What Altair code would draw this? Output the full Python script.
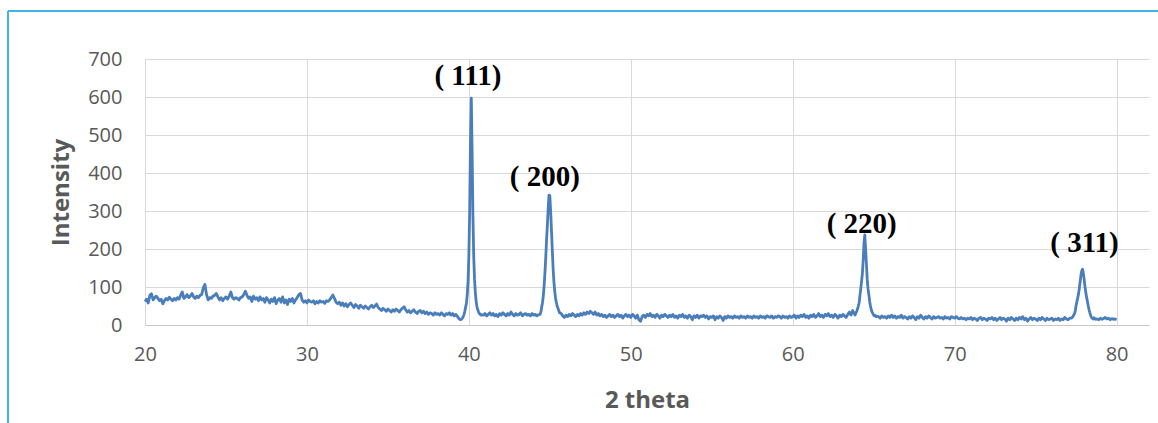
import numpy as np
import pandas as pd
import altair as alt

# ---------------- data ----------------
# baseline segments sampled every 0.1 degree (2 theta), start value given
seg_a_start = 20.0
seg_a = [
    62, 68, 58, 78, 82, 66, 72, 76, 70, 64,   # 20.x
    68, 56, 64, 70, 66, 73, 68, 64, 70, 66,   # 21.x
    72, 68, 78, 87, 70, 74, 80, 72, 76, 83,   # 22.x
    74, 70, 76, 72, 78, 80, 98, 107, 80, 66,  # 23.x
    72, 70, 76, 78, 83, 74, 66, 72, 64, 70,   # 24.x
    74, 68, 76, 87, 72, 68, 72, 70, 66, 72,   # 25.x
    74, 80, 89, 78, 70, 74, 62, 76, 68, 72,   # 26.x
    64, 74, 66, 70, 60, 72, 66, 58, 68, 62,   # 27.x
    72, 56, 66, 70, 60, 74, 58, 66, 54, 68,   # 28.x
    62, 70, 58, 66, 72, 80, 83, 66, 60, 64,   # 29.x
    58, 66, 62, 60, 64, 56, 62, 58, 64, 60,   # 30.x
    62, 57, 64, 62, 66, 72, 79, 70, 60, 56,   # 31.x
    60, 52, 58, 50, 56, 48, 54, 58, 52, 46,   # 32.x
    54, 50, 44, 52, 48, 44, 50, 46, 42, 48,   # 33.x
    52, 46, 50, 55, 46, 42, 38, 44, 40, 36,   # 34.x
    42, 38, 34, 40, 36, 42, 38, 34, 40, 44,   # 35.x
    48, 40, 34, 38, 32, 36, 40, 34, 30, 36,   # 36.x
    38, 32, 36, 30, 34, 28, 32, 30, 26, 32,   # 37.x
    28, 30, 26, 32, 28, 24, 30, 28, 32, 26,   # 38.x
    30, 24, 28, 22, 16, 14,                   # 39.0-39.5
]

seg_b_start = 40.9
seg_b = [
    26, 30, 24, 28, 32, 26, 30, 24, 28, 22, 30,
    26, 32, 28, 24, 30, 26, 34, 28, 24, 30,
    26, 28, 32, 24, 28, 30, 26, 28, 24, 30,
    26, 28, 24, 27,
]

seg_c_start = 45.7
seg_c = [
    30, 24, 20, 26, 22, 28, 24, 30, 26, 22, 28, 24, 30,
    26, 32, 28, 34, 30, 36, 32, 28, 34, 26,   # 47.x
    30, 24, 28, 22, 26, 20, 24, 28, 22, 26,   # 48.x
    20, 24, 28, 22, 26, 18, 24, 28, 22, 26,   # 49.x
    20, 28, 24, 18, 26, 14, 10, 22, 26, 20,   # 50.x
    28, 24, 30, 22, 26, 20, 28, 24, 18, 26,   # 51.x
    22, 28, 24, 20, 26, 22, 28, 20, 24, 18,   # 52.x
    26, 22, 28, 20, 24, 18, 26, 22, 14, 24,   # 53.x
    20, 26, 18, 24, 22, 26, 20, 24, 16, 22,   # 54.x
    20, 24, 14, 22, 18, 24, 20, 12, 22, 18,   # 55.x
    24, 20, 22, 18, 24, 20, 22, 18, 24, 20,   # 56.x
    22, 18, 24, 20, 22, 18, 24, 20, 22, 18,   # 57.x
    24, 20, 22, 18, 24, 22, 20, 24, 18, 22,   # 58.x
    20, 24, 22, 18, 24, 20, 22, 18, 24, 20,   # 59.x
    22, 26, 18, 24, 20, 26, 22, 28, 20, 24,   # 60.x
    18, 26, 22, 28, 20, 24, 30, 22, 26, 20,   # 61.x
    28, 24, 30, 22, 26, 20, 28, 24, 18, 26,   # 62.x
    22, 28, 24, 20, 28, 34, 26, 38,           # 63.0-63.7
]

seg_d_start = 65.3
seg_d = [
    22, 18, 24, 20, 22, 18, 24,
    20, 26, 20, 24, 18, 22, 20, 26, 18, 22,   # 66.x
    20, 16, 22, 18, 24, 20, 14, 22, 18, 26,   # 67.x
    20, 16, 22, 18, 24, 20, 16, 22, 18, 20,   # 68.x
    22, 18, 20, 16, 22, 18, 20, 16, 22, 20,   # 69.x
    18, 22, 18, 16, 20, 16, 18, 14, 18, 16,   # 70.x
    20, 14, 18, 16, 12, 18, 20, 14, 18, 16,   # 71.x
    12, 18, 16, 20, 14, 18, 12, 16, 20, 14,   # 72.x
    18, 16, 10, 18, 14, 20, 16, 12, 18, 14,   # 73.x
    20, 16, 22, 14, 18, 10, 16, 20, 14, 18,   # 74.x
    16, 12, 18, 14, 20, 16, 12, 18, 14, 16,   # 75.x
    18, 12, 16, 14, 18, 12, 16, 14, 20, 16,   # 76.x
    14, 18,
]

seg_e_start = 78.8
seg_e = [16, 14, 18, 15, 17, 20, 16, 18, 14, 17, 15, 16, 14]

# diffraction peaks sampled every 0.05 degree
peak_111_start = 39.6
peak_111 = [18, 22, 28, 36, 47, 58, 80, 115, 185, 300, 480, 597, 460,
            290, 180, 120, 85, 62, 48, 40, 34, 30, 28, 26, 27]
peak_200_start = 44.4
peak_200 = [28, 35, 48, 60, 78, 105, 140, 180, 225, 265, 310, 342, 340,
            300, 250, 200, 150, 115, 90, 72, 60, 50, 44, 38, 32]
peak_220_start = 63.8
peak_220 = [30, 26, 32, 36, 42, 50, 58, 78, 95, 115, 135, 170, 215, 237,
            200, 160, 120, 95, 80, 62, 50, 40, 34, 30, 26, 24, 25, 22, 23]
peak_311_start = 77.2
peak_311 = [18, 20, 22, 26, 30, 38, 52, 62, 72, 82, 98, 115, 132, 143,
            147, 135, 118, 100, 85, 72, 62, 50, 40, 32, 25, 20, 18, 16,
            19, 17, 15]

labels = ["( 111)", "( 200)", "( 220)", "( 311)"]
label_x = [39.94, 44.69, 64.26, 78.02]
label_y = [654, 389, 266, 216]

x_ticks = [20, 30, 40, 50, 60, 70, 80]
y_ticks = [0, 100, 200, 300, 400, 500, 600, 700]


def seg(start, vals, step):
    xs = np.round(start + step * np.arange(len(vals)), 3)
    return pd.DataFrame({"theta": xs, "intensity": vals})


df = pd.concat([
    seg(seg_a_start, seg_a, 0.1),
    seg(peak_111_start, peak_111, 0.05),
    seg(seg_b_start, seg_b, 0.1),
    seg(peak_200_start, peak_200, 0.05),
    seg(seg_c_start, seg_c, 0.1),
    seg(peak_220_start, peak_220, 0.05),
    seg(seg_d_start, seg_d, 0.1),
    seg(peak_311_start, peak_311, 0.05),
    seg(seg_e_start, seg_e, 0.1),
]).sort_values("theta").reset_index(drop=True)

lab_df = pd.DataFrame({"label": labels, "theta": label_x, "intensity": label_y})

W, H = 1004, 266
grid_col = "#d9d9d9"
text_col = "#595959"

x_scale = alt.Scale(domain=[20, 82], nice=False, zero=False)
y_scale = alt.Scale(domain=[0, 700], nice=False)

line = alt.Chart(df).mark_line(color="#4a7ebb", strokeWidth=2.8, strokeJoin="round").encode(
    x=alt.X("theta:Q", scale=x_scale,
            axis=alt.Axis(values=x_ticks, tickCount=12, title="2 theta", grid=True,
                          gridColor=grid_col, gridWidth=1, ticks=False, tickSize=0,
                          domain=True, domainColor="#c8c8c8", domainWidth=1,
                          labelFont="Open Sans", labelFontSize=20, labelColor=text_col,
                          labelPadding=19, labelFlush=False, labelOverlap=False,
                          titleFont="Open Sans", titleFontSize=24, titleFontWeight="bold",
                          titleColor=text_col, titleX=502, titleY=75,
                          titleBaseline="middle", titleAlign="center")),
    y=alt.Y("intensity:Q", scale=y_scale,
            axis=alt.Axis(values=y_ticks, tickCount=12, title="Intensity", grid=True,
                          gridColor=grid_col, gridWidth=1, ticks=False, tickSize=0,
                          domain=False,
                          labelFont="Open Sans", labelFontSize=20, labelColor=text_col,
                          labelPadding=23, labelFlush=False, labelOverlap=False,
                          titleFont="Open Sans", titleFontSize=24, titleFontWeight="bold",
                          titleColor=text_col, titleAngle=-90, titleX=-84, titleY=133,
                          titleBaseline="middle", titleAlign="center")),
)

text = alt.Chart(lab_df).mark_text(
    font="Liberation Serif", fontSize=29, fontWeight="bold", color="#000000",
    align="center", baseline="middle",
).encode(
    x=alt.X("theta:Q", scale=x_scale),
    y=alt.Y("intensity:Q", scale=y_scale),
    text="label:N",
)

border_df = pd.DataFrame({"k": [0]})
border_col = "#41b4ea"
top_border = alt.Chart(border_df).mark_rule(color=border_col, strokeWidth=2).encode(
    x=alt.value(-137), x2=alt.value(1013), y=alt.value(-48))
left_border = alt.Chart(border_df).mark_rule(color=border_col, strokeWidth=2).encode(
    x=alt.value(-137), y=alt.value(-48), y2=alt.value(364))

chart = alt.layer(line, text, top_border, left_border).properties(
    width=W, height=H,
    padding={"left": 145, "top": 59, "right": 9, "bottom": 98},
    autosize=alt.AutoSizeParams(type="none"),
    background="white",
).configure_view(strokeWidth=0)

chart.save("out.html", embed_options={"renderer": "svg", "actions": False})
